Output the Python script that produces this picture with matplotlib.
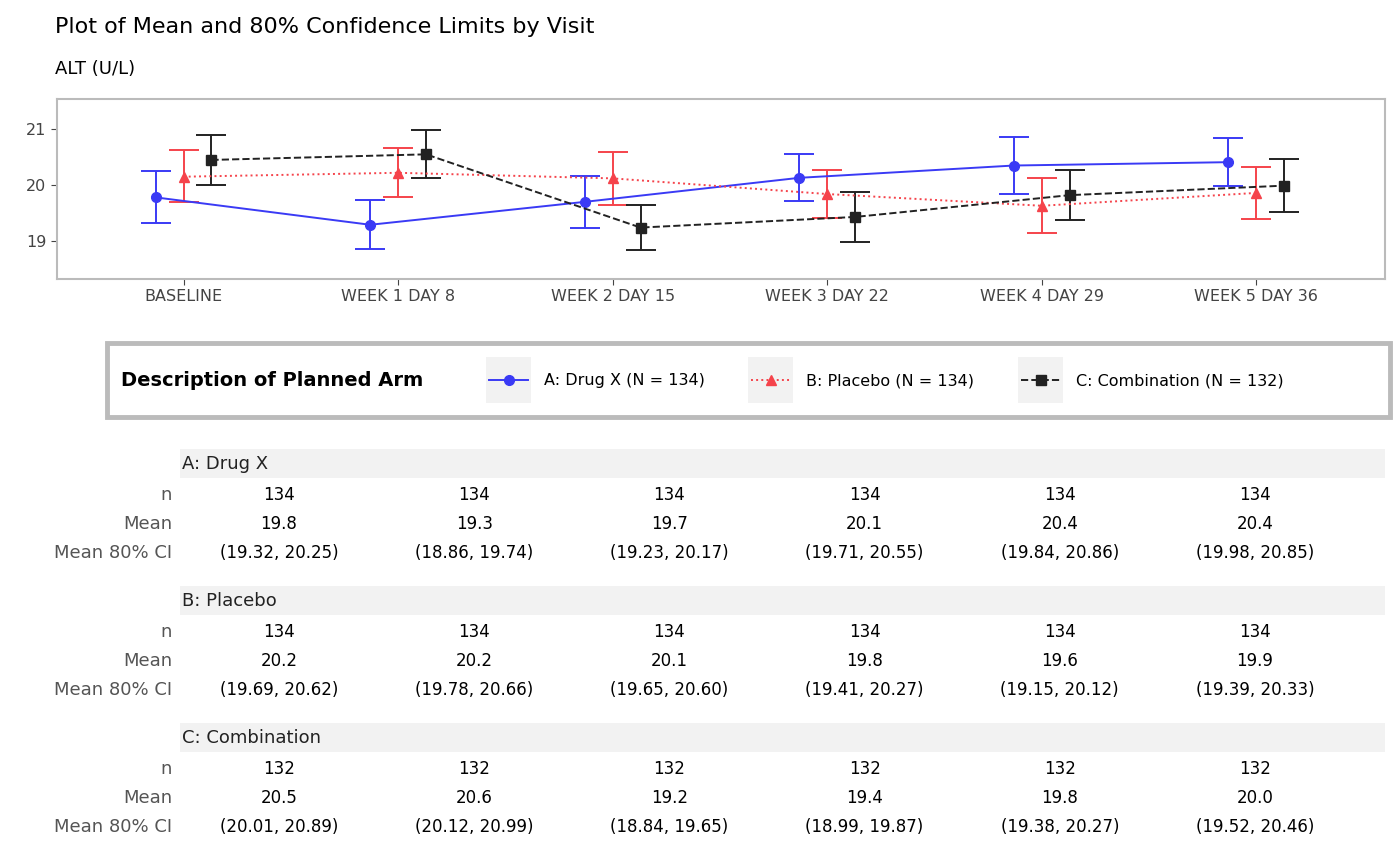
import numpy as np
import matplotlib.pyplot as plt
from matplotlib.patches import Rectangle

visits = ['BASELINE', 'WEEK 1 DAY 8', 'WEEK 2 DAY 15', 'WEEK 3 DAY 22', 'WEEK 4 DAY 29', 'WEEK 5 DAY 36']
arms = ['A: Drug X', 'B: Placebo', 'C: Combination']
arm_n = [134, 134, 132]
n_vals = [[134] * 6, [134] * 6, [132] * 6]
means = [[19.78, 19.29, 19.70, 20.13, 20.35, 20.41],
         [20.15, 20.22, 20.12, 19.84, 19.63, 19.86],
         [20.45, 20.55, 19.24, 19.43, 19.82, 19.99]]
mean_txt = [['19.8', '19.3', '19.7', '20.1', '20.4', '20.4'],
            ['20.2', '20.2', '20.1', '19.8', '19.6', '19.9'],
            ['20.5', '20.6', '19.2', '19.4', '19.8', '20.0']]
lo = [[19.32, 18.86, 19.23, 19.71, 19.84, 19.98],
      [19.69, 19.78, 19.65, 19.41, 19.15, 19.39],
      [20.01, 20.12, 18.84, 18.99, 19.38, 19.52]]
hi = [[20.25, 19.74, 20.17, 20.55, 20.86, 20.85],
      [20.62, 20.66, 20.60, 20.27, 20.12, 20.33],
      [20.89, 20.99, 19.65, 19.87, 20.27, 20.46]]

colors = ['#3A3AF5', '#F5434B', '#222222']
markers = ['o', '^', 's']
styles = ['-', ':', '--']
dodge = [-0.13, 0.0, 0.13]

W, H = 1400, 866
fig = plt.figure(figsize=(14, 8.66), dpi=100)
ax = fig.add_axes([57 / W, 1 - 279 / H, (1385 - 57) / W, (279 - 99) / H])
x = np.arange(len(visits))
for i in range(3):
    xi = x + dodge[i]
    m = np.array(means[i])
    err = [m - np.array(lo[i]), np.array(hi[i]) - m]
    ax.errorbar(xi, m, yerr=err, color=colors[i], ls=styles[i], marker=markers[i],
                ms=7, lw=1.4, capsize=11, capthick=1.4, elinewidth=1.4)
ax.set_xlim(-0.59, 5.6)
ax.set_ylim(18.32, 21.54)
ax.set_yticks([19, 20, 21])
ax.set_xticks(x)
ax.set_xticklabels(visits)
ax.tick_params(colors='#444444', labelsize=11.5, length=4)
for s in ax.spines.values():
    s.set_color('#BBBBBB')
    s.set_linewidth(1.5)

fig.text(55 / W, 1 - 27 / H, 'Plot of Mean and 80% Confidence Limits by Visit', fontsize=16, va='center')
fig.text(55 / W, 1 - 69 / H, 'ALT (U/L)', fontsize=13, va='center')

# legend box
fig.patches.append(Rectangle((107 / W, 1 - 417 / H), (1390 - 107) / W, (417 - 343) / H,
                             transform=fig.transFigure, fill=False, ec='#BBBBBB', lw=3.5))
fig.text(121 / W, 1 - 381 / H, 'Description of Planned Arm', fontsize=14, fontweight='bold', va='center')
leg_x = [486, 748, 1018]
for i in range(3):
    fig.patches.append(Rectangle((leg_x[i] / W, 1 - 403 / H), 45 / W, 46 / H,
                                 transform=fig.transFigure, fc='#F2F2F2', ec='none', zorder=3))
    lx = np.array([leg_x[i] + 3, leg_x[i] + 42]) / W
    fig.add_artist(plt.Line2D(lx, [1 - 380 / H] * 2, transform=fig.transFigure, color=colors[i],
                              ls=styles[i], lw=1.4, zorder=4))
    fig.add_artist(plt.Line2D([lx.mean()], [1 - 380 / H], transform=fig.transFigure, color=colors[i],
                              marker=markers[i], ms=7, zorder=4))
    fig.text((leg_x[i] + 58) / W, 1 - 381 / H, f'{arms[i]} (N = {arm_n[i]})', fontsize=11.5, va='center',
             zorder=5)

# table
col_px = 279 + 195.2 * x
row_labels = ['n', 'Mean', 'Mean 80% CI']
for i in range(3):
    top = 449 + 137 * i
    fig.patches.append(Rectangle((180 / W, 1 - (top + 29) / H), (1385 - 180) / W, 29 / H,
                                 transform=fig.transFigure, fc='#F2F2F2', ec='none'))
    fig.text(182 / W, 1 - (top + 15) / H, arms[i], fontsize=13, va='center', color='#222222')
    for r, lab in enumerate(row_labels):
        y = 1 - (top + 46 + 29 * r) / H
        fig.text(172 / W, y, lab, fontsize=13, ha='right', va='center', color='#555555')
        for j in range(6):
            if r == 0:
                s = str(n_vals[i][j])
            elif r == 1:
                s = mean_txt[i][j]
            else:
                s = f'({lo[i][j]:.2f}, {hi[i][j]:.2f})'
            fig.text(col_px[j] / W, y, s, fontsize=12, ha='center', va='center')

fig.savefig('out.png')
